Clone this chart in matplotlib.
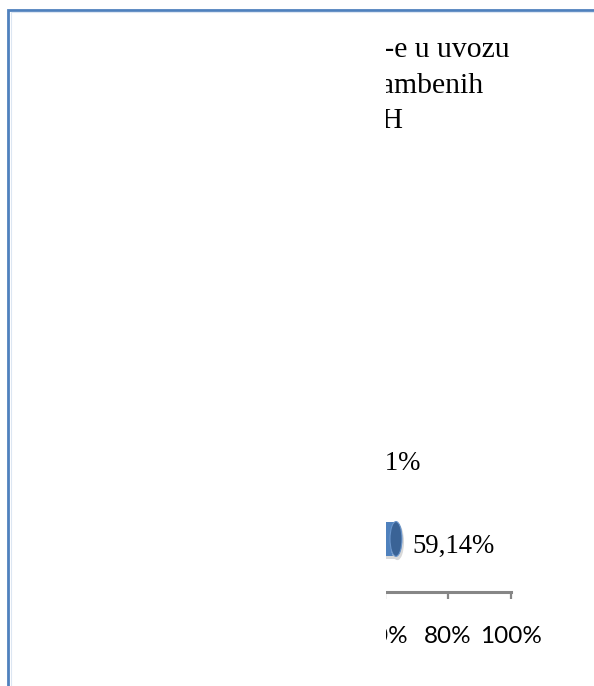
import matplotlib
matplotlib.use("Agg")
import matplotlib.pyplot as plt
from matplotlib.patches import Rectangle, Ellipse
from matplotlib.transforms import Bbox, TransformedBbox, ScaledTranslation

# chart data (only the right part of the chart is visible in the source)
title_lines = ["Učešće CEFTA-e u uvozu", "prehrambenih", "proizvoda u BiH"]
categories = ["CEFTA", "Ostale zemlje"]
values = [0.5914, 0.3581]
value_labels = ["59,14%", "35,81%"]
tick_values = [0.0, 0.2, 0.4, 0.6, 0.8, 1.0]
tick_labels = ["0%", "20%", "40%", "60%", "80%", "100%"]

W, H = 594, 686
fig = plt.figure(figsize=(W / 100, H / 100), dpi=100)
fig.patch.set_facecolor("white")

# visible window of the chart
clip = TransformedBbox(Bbox.from_extents(386 / W, 0, 1, 1), fig.transFigure)

# chart frame (only left and top edges show)
frame = Rectangle((8 / W, -0.1), 2, 1.1 - 10 / H, transform=fig.transFigure,
                  fill=False, edgecolor="#4F81BD", linewidth=2.0)
fig.patches.append(frame)
inner = Rectangle((10.5 / W, -0.1), 2, 1.1 - 12.5 / H, transform=fig.transFigure,
                  fill=False, edgecolor="#DCE6F2", linewidth=0.8)
fig.patches.append(inner)

ax = fig.add_axes([196 / W, 1 - 591.5 / H, 315 / W, 441.5 / H])
ax.set_xlim(0, 1)
ax.set_ylim(-0.633, 4.687)
ax.patch.set_visible(False)
for s in ["top", "left", "right"]:
    ax.spines[s].set_visible(False)
ax.spines["bottom"].set_color("#868686")
ax.spines["bottom"].set_linewidth(2.2)
ax.spines["bottom"].set_clip_box(clip)
ax.spines["bottom"].set_clip_on(True)
ax.set_yticks([])

ax.set_xticks(tick_values)
ax.set_xticklabels(tick_labels, fontfamily="Lato", fontsize=17.5)
ax.tick_params(axis="x", direction="out", length=5, width=1.6,
               color="#868686", pad=19.5)
for t in ax.xaxis.get_major_ticks():
    for a in (t.tick1line, t.label1):
        a.set_clip_box(clip)
        a.set_clip_on(True)

# 3D cylinder bars shifted a bit to the right (depth effect)
shift = ax.transData + ScaledTranslation(13.7 / 100, 0, fig.dpi_scale_trans)
shadow = ax.transData + ScaledTranslation(15 / 100, -3 / 100, fig.dpi_scale_trans)
ypos = list(range(len(values)))
bh = 0.42
bars_sh = ax.barh(ypos, values, height=bh, color="#D9D9D9", transform=shadow)
bars = ax.barh(ypos, values, height=bh, color="#4F81BD", transform=shift)
cap_w = 12 / 315
for y, v in zip(ypos, values):
    sh_cap = Ellipse((v, y), cap_w, bh, color="#D9D9D9", transform=shadow)
    ax.add_patch(sh_cap)
    cap = Ellipse((v, y), cap_w, bh, facecolor="#3A6396",
                  edgecolor="#6A95CB", linewidth=0.8, transform=shift)
    ax.add_patch(cap)
    sh_cap.set_clip_box(clip)
    cap.set_clip_box(clip)
for b in list(bars) + list(bars_sh):
    b.set_clip_box(clip)

# value labels
lab_tr = ax.transData + ScaledTranslation(30 / 100, -14 / 100, fig.dpi_scale_trans)
for y, v, s in zip(ypos, values, value_labels):
    t = ax.text(v, y, s, transform=lab_tr,
                fontfamily="Liberation Serif", fontsize=19.3,
                ha="left", va="baseline", color="black")
    t.set_clip_box(clip)
    t.set_clip_on(True)

# title lines (centred title, right parts visible)
title_right = [510, 484, 403]
title_y = [50, 86, 121]
for line, xr, yc in zip(title_lines, title_right, title_y):
    t = fig.text(xr / W, 1 - yc / H, line, ha="right", va="center",
                 fontfamily="Liberation Serif", fontsize=21.3, color="black")
    t.set_clip_box(clip)
    t.set_clip_on(True)

fig.savefig("out.png", dpi=100)
